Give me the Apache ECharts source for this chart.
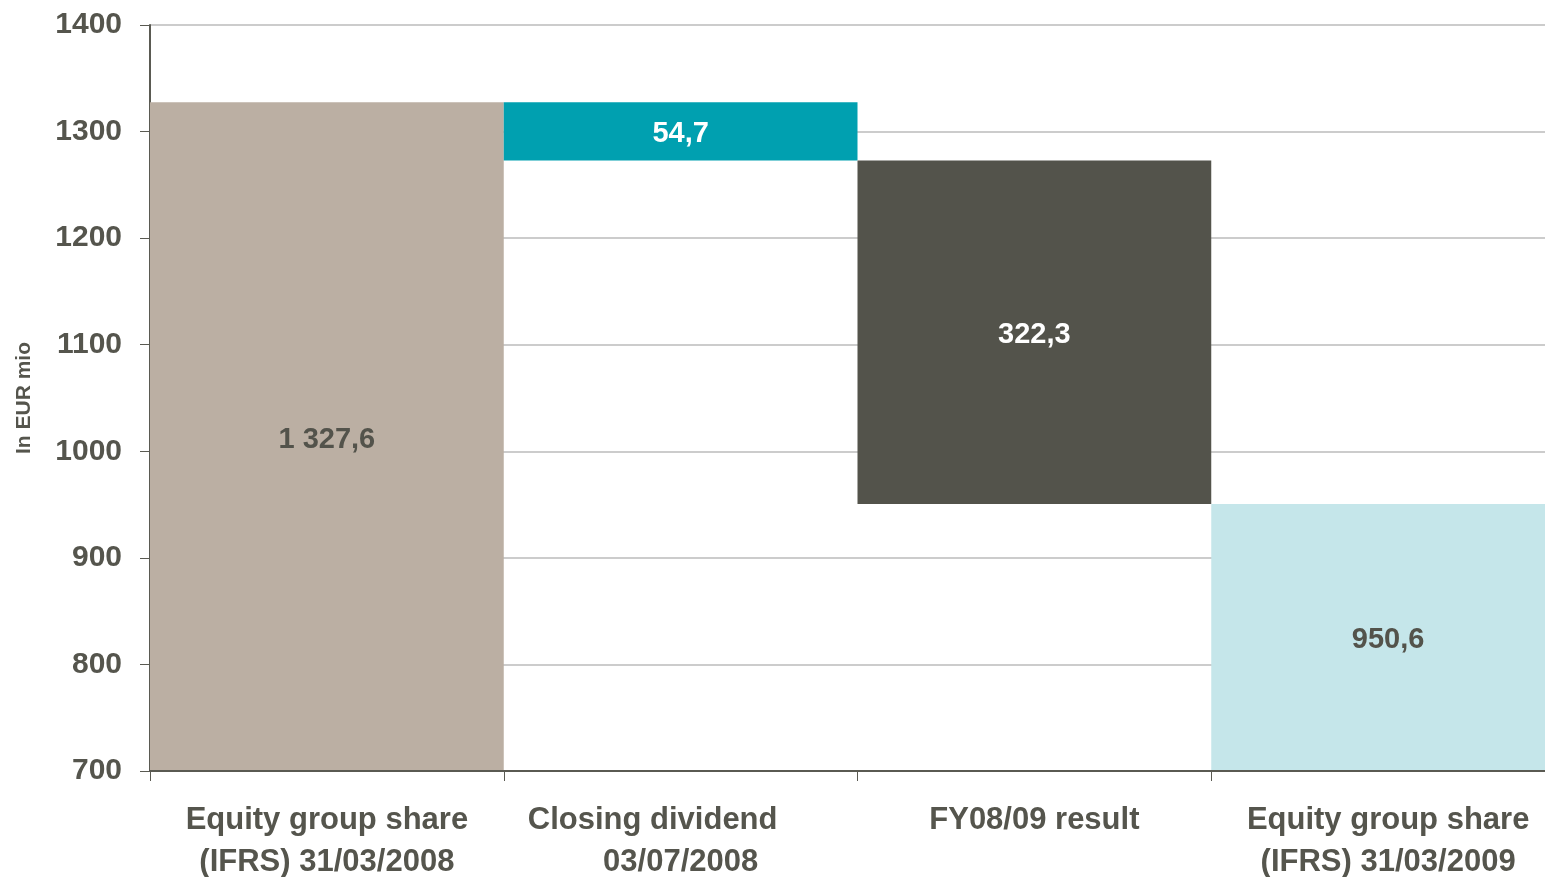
<!DOCTYPE html>
<html>
<head>
<meta charset="utf-8">
<script src="https://cdn.jsdelivr.net/npm/echarts@6/dist/echarts.min.js"></script>
<style>
html,body{margin:0;padding:0;background:#fff;}
#c{width:1545px;height:877px;}
</style>
</head>
<body>
<div id="c"></div>
<script>
const categories = [
  'Equity group share\n(IFRS) 31/03/2008',
  'Closing dividend\n03/07/2008',
  'FY08/09 result',
  'Equity group share\n(IFRS) 31/03/2009'
];
const amounts = [1327.6, 54.7, 322.3, 950.6];
const kinds = ['total', 'decrease', 'decrease', 'total'];
const barColors = ['#BBAFA3', '#00A0B0', '#53534B', '#C5E6EA'];
const labelColors = ['#53534B', '#FFFFFF', '#FFFFFF', '#53534B'];
const yMin = 700, yMax = 1400, yStep = 100;

const TXT = '#55554D';
const FONT = '"Liberation Sans", Arial, sans-serif';

// build waterfall base/visible pieces
const bases = [], visible = [];
let running = 0;
for (let i = 0; i < amounts.length; i++) {
  let lo, hi;
  if (kinds[i] === 'total') { lo = 0; hi = amounts[i]; running = amounts[i]; }
  else { hi = running; lo = running - amounts[i]; running = lo; }
  const b = Math.max(lo, yMin);
  bases.push(b);
  visible.push(hi - b);
}

function fmt(v) {
  const s = v.toFixed(1).split('.');
  const intPart = s[0].replace(/\B(?=(\d{3})+(?!\d))/g, ' ');
  return intPart + ',' + s[1];
}

const chart = echarts.init(document.getElementById('c'), null, {renderer: 'canvas'});
chart.setOption({
  animation: false,
  backgroundColor: '#fff',
  grid: {left: 150, top: 25, bottom: 106, right: -20, containLabel: false, outerBoundsMode: 'none'},
  xAxis: {
    type: 'category',
    data: categories,
    z: 10,
    axisLine: {lineStyle: {color: '#5A5A52', width: 2}},
    axisTick: {show: true, length: 10, lineStyle: {color: '#5A5A52', width: 1}},
    axisLabel: {
      color: TXT, fontFamily: FONT, fontWeight: 'bold', fontSize: 31,
      lineHeight: 42, margin: 28, interval: 0,
      formatter: (v) => {
        if (v.indexOf('Closing') === 0) {
          const parts = v.split('\n');
          return '{s|' + parts[0] + '}\n' + parts[1];
        }
        return v;
      },
      rich: {
        s: {color: TXT, fontFamily: FONT, fontWeight: 'bold', fontSize: 31, lineHeight: 42, padding: [0, 56, 0, 0]}
      }
    }
  },
  yAxis: {
    type: 'value',
    min: yMin, max: yMax, interval: yStep,
    name: 'In EUR mio',
    nameLocation: 'middle',
    nameGap: 115,
    nameTextStyle: {color: TXT, fontFamily: FONT, fontWeight: 'bold', fontSize: 21},
    axisLine: {show: true, lineStyle: {color: '#5A5A52', width: 2}},
    axisTick: {show: true, length: 10, lineStyle: {color: '#5A5A52', width: 1}},
    axisLabel: {color: TXT, fontFamily: FONT, fontWeight: 'bold', fontSize: 30, margin: 28,
      formatter: v => String(v)},
    splitLine: {show: true, lineStyle: {color: '#CCCCCC', width: 2}}
  },
  series: [
    {
      type: 'bar', stack: 'wf', barCategoryGap: '0%',
      itemStyle: {color: 'transparent'},
      silent: true,
      data: bases
    },
    {
      type: 'bar', stack: 'wf', barCategoryGap: '0%',
      data: visible.map((v, i) => ({
        value: v,
        itemStyle: {color: barColors[i]},
        label: {color: labelColors[i]}
      })),
      label: {
        show: true, position: 'inside',
        fontFamily: FONT, fontWeight: 'bold', fontSize: 29,
        offset: [0, 3],
        formatter: p => fmt(amounts[p.dataIndex])
      }
    }
  ]
});
</script>
</body>
</html>
